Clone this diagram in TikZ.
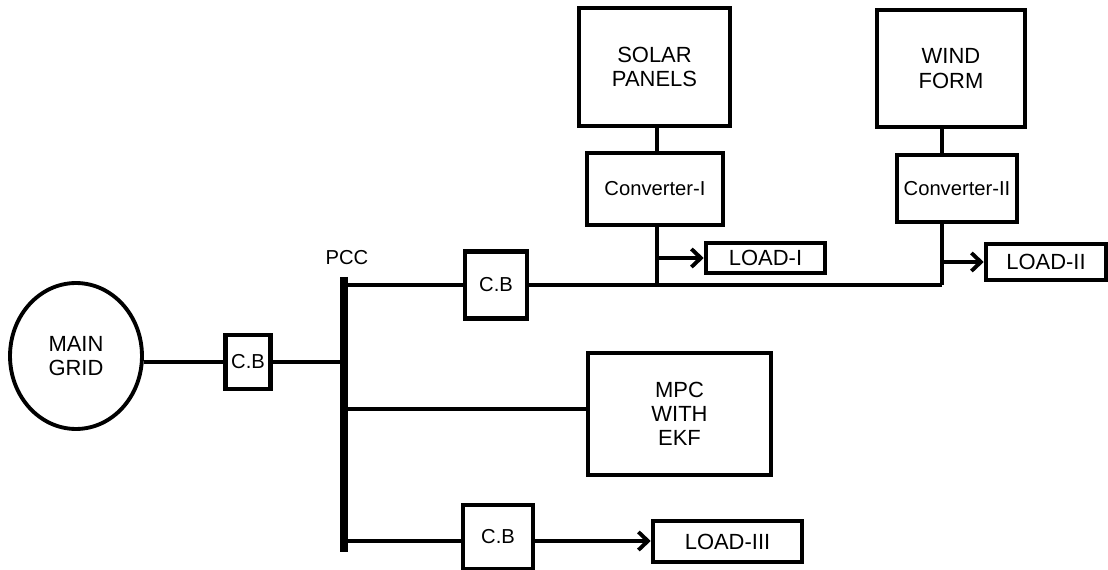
\documentclass[tikz,border=0pt]{standalone}
\usepackage{fontspec}
\setmainfont{Liberation Sans}
\usetikzlibrary{positioning, arrows.meta, shapes.geometric}

\begin{document}
\begin{tikzpicture}[
		x=0.02cm, y=-0.02cm,
		>={Straight Barb[length=1.9mm, width=3.6mm]},
		% Styles for the plant boxes
		block/.style={
			draw, line width=2.6pt, align=center, inner sep=2pt,
			font=\fontsize{12.5}{13.8}\selectfont
		},
		cbox/.style={block, font=\fontsize{11.5}{13}\selectfont},
		loadbox/.style={block, font=\fontsize{12.5}{13.8}\selectfont},
		% Styles for the lines
		link/.style={line width=2.2pt},
		busbar/.style={line width=4.5pt}
		]
		
		\useasboundingbox (0,0) rectangle (1108,570);
		
		% ==========================================
		% 1. GRID SIDE and the PCC bus
		% ==========================================
		\node[ellipse, draw, line width=2.2pt, minimum width=2.64cm, minimum height=2.92cm,
			align=center, font=\fontsize{12.5}{13.8}\selectfont] (grid) at (76,356) {MAIN\\GRID};
		\node[cbox, minimum width=0.9cm, minimum height=1.08cm] (cb1) at (248,362) {C.B};
		
		\coordinate (bustop) at (344,277);
		\coordinate (busbot) at (344,552);
		\node[font=\fontsize{11.5}{13}\selectfont] (pcc) at (347,258) {PCC};
		\draw[busbar] (bustop) -- (busbot);
		
		\draw[link] (grid.east |- cb1.west) -- (cb1.west);
		\draw[link] (cb1.east) -- (cb1.east -| bustop);
		
		% ==========================================
		% 2. TOP FEEDER: solar and wind
		% ==========================================
		\coordinate (tap1) at (344,285);
		\coordinate (j1) at (657,285);
		\coordinate (j2) at (942,285);
		
		\node[cbox, minimum width=1.24cm, minimum height=1.34cm] (cb2) at (496,285) {C.B};
		
		\node[block, minimum width=3.02cm, minimum height=2.36cm] (solar) at (654.5,67) {SOLAR\\PANELS};
		\node[cbox, minimum width=2.72cm, minimum height=1.44cm] (conv1) at (655,189) {Converter-I};
		\node[loadbox, minimum width=2.38cm, minimum height=0.6cm] (load1) at (765.5,258) {LOAD-I};
		
		\node[block, minimum width=2.96cm, minimum height=2.34cm] (wind) at (951,68.5) {WIND\\FORM};
		\node[cbox, minimum width=2.4cm, minimum height=1.34cm] (conv2) at (957,188.5) {Converter-II};
		\node[loadbox, minimum width=2.4cm, minimum height=0.72cm] (load2) at (1046,262) {LOAD-II};
		
		\draw[link] (tap1) -- (cb2.west);
		\draw[link] (cb2.east) -- (j2);
		
		\draw[link] (solar.south -| j1) -- (conv1.north -| j1);
		\draw[link] (conv1.south -| j1) -- (j1);
		\draw[->, link] (j1 |- load1.west) -- (load1.west);
		
		\draw[link] (wind.south -| j2) -- (conv2.north -| j2);
		\draw[link] (conv2.south -| j2) -- (j2);
		\draw[->, link] (j2 |- load2.west) -- (load2.west);
		
		% ==========================================
		% 3. CONTROLLER
		% ==========================================
		\coordinate (tap2) at (344,409);
		\node[block, minimum width=3.66cm, minimum height=2.44cm] (mpc) at (679.5,414) {MPC\\WITH\\EKF};
		\draw[link] (tap2) -- (tap2 -| mpc.west);
		
		% ==========================================
		% 4. BOTTOM FEEDER
		% ==========================================
		\coordinate (tap3) at (344,541);
		\node[cbox, minimum width=1.4cm, minimum height=1.28cm] (cb3) at (498,537) {C.B};
		\node[loadbox, minimum width=2.98cm, minimum height=0.82cm] (load3) at (727.5,541.5) {LOAD-III};
		
		\draw[link] (tap3) -- (tap3 -| cb3.west);
		\draw[->, link] (tap3 -| cb3.east) -- (tap3 -| load3.west);
		
	\end{tikzpicture}
\end{document}
